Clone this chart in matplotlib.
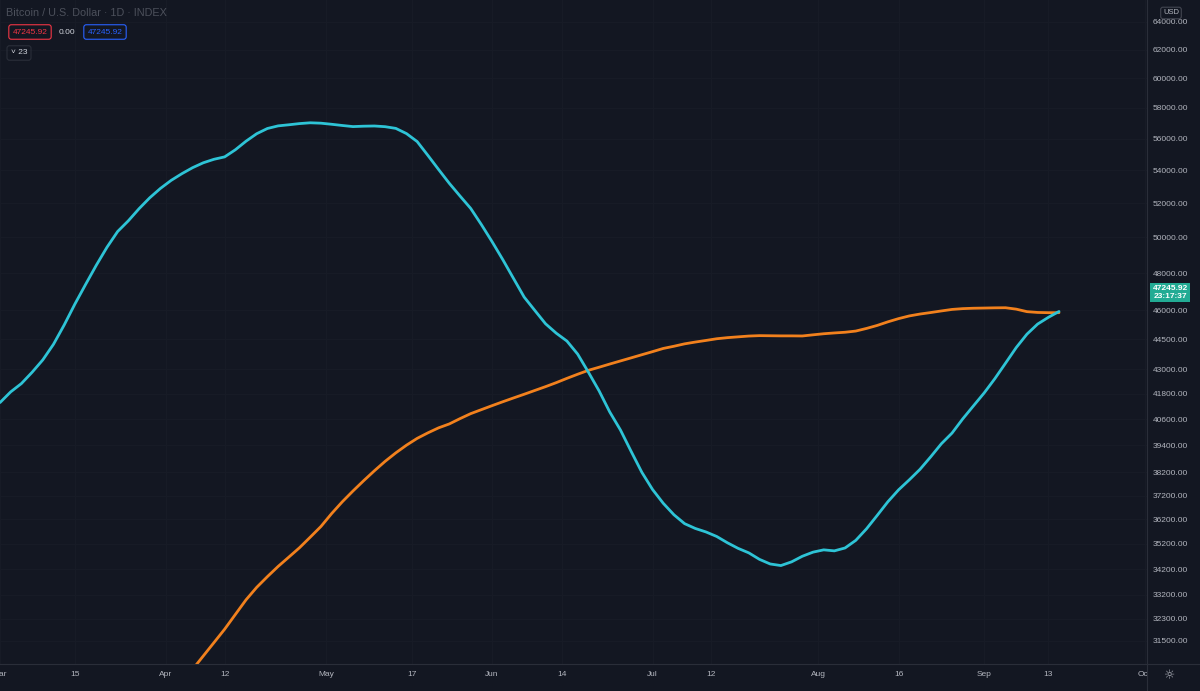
import numpy as np
import pandas as pd
import matplotlib
matplotlib.use('Agg')
import matplotlib.pyplot as plt
import matplotlib.dates as mdates
from matplotlib.ticker import FixedLocator, NullLocator, FuncFormatter
from matplotlib.transforms import blended_transform_factory

# values every second day (log price scale)
cyan_dates = pd.date_range('2021-03-01', '2021-09-15', freq='2D')
cyan_values = [41385, 41896, 42296, 42847, 43459, 44243, 45232, 46328, 47380, 48434,
               49443, 50346, 50967, 51678, 52328, 52893, 53381, 53791, 54162, 54467,
               54686, 54837, 55285, 55832, 56313, 56650, 56820, 56891, 56969, 57021,
               56995, 56924, 56845, 56773, 56799, 56812, 56767, 56657, 56320, 55806,
               54931, 54051, 53203, 52435, 51695, 50745, 49761, 48751, 47712, 46701,
               45989, 45294, 44809, 44405, 43749, 42856, 41948, 40942, 40107, 39135,
               38209, 37464, 36877, 36394, 36025, 35827, 35684, 35500, 35245, 35020,
               34840, 34581, 34399, 34337, 34483, 34704, 34868, 34960, 34920, 35036,
               35342, 35811, 36365, 36940, 37447, 37878, 38336, 38889, 39478, 39965,
               40620, 41229, 41843, 42534, 43295, 44076, 44758, 45279, 45628, 45937]

orange_dates = pd.date_range('2021-04-06', '2021-09-15', freq='2D')
orange_values = [30486, 30957, 31436, 31923, 32465, 33016, 33492, 33905, 34303, 34671,
                 35046, 35471, 35908, 36443, 36940, 37400, 37844, 38275, 38690, 39068,
                 39414, 39723, 39974, 40204, 40384, 40630, 40863, 41051, 41239, 41424,
                 41604, 41781, 41964, 42147, 42341, 42550, 42750, 42942, 43094, 43252,
                 43406, 43560, 43716, 43871, 44032, 44143, 44265, 44356, 44438, 44524,
                 44580, 44621, 44662, 44683, 44677, 44671, 44671, 44666, 44724, 44780,
                 44821, 44857, 44918, 45053, 45208, 45395, 45562, 45703, 45802, 45881,
                 45965, 46045, 46087, 46108, 46118, 46129, 46134, 46060, 45928, 45886,
                 45874, 45874]

price_ticks = [31500, 32300, 33200, 34200, 35200, 36200, 37200, 38200, 39400, 40600, 41800,
               43000, 44500, 46000, 48000, 50000, 52000, 54000, 56000, 58000, 60000, 62000, 64000]
time_ticks = ['2021-03-01', '2021-03-15', '2021-04-01', '2021-04-12', '2021-05-01', '2021-05-17',
              '2021-06-01', '2021-06-14', '2021-07-01', '2021-07-12', '2021-08-01', '2021-08-16',
              '2021-09-01', '2021-09-13', '2021-10-01']
time_labels = ['Mar', '15', 'Apr', '12', 'May', '17', 'Jun', '14', 'Jul', '12', 'Aug', '16',
               'Sep', '13', 'Oct']
last_price = 47245.92
countdown = '23:17:37'

W, H = 1200, 691
bg = '#131722'
grid = '#171b26'
border = '#2a2e39'
txt = '#b2b5be'

plt.rcParams['font.family'] = ['Liberation Sans', 'DejaVu Sans']

fig = plt.figure(figsize=(W / 100, H / 100), dpi=100, facecolor=bg)
left_w = 1147 / W
bot = (H - 664) / H

# main chart pane
ax = fig.add_axes([0, bot, left_w, 1 - bot], facecolor=bg)
ax.set_yscale('log')
ax.set_ylim(30675, 65633)
t0 = pd.Timestamp('2021-03-01')
ax.set_xlim(mdates.date2num(t0 + pd.Timedelta(days=0.18)),
            mdates.date2num(t0 + pd.Timedelta(days=214.45)))

ax.plot(orange_dates, orange_values, color='#f2811d', lw=2.0,
        solid_capstyle='round', solid_joinstyle='round')
ax.plot(cyan_dates, cyan_values, color='#2ec4d6', lw=2.0,
        solid_capstyle='round', solid_joinstyle='round')

ax.yaxis.set_major_locator(FixedLocator(price_ticks))
ax.yaxis.set_minor_locator(NullLocator())
ax.tick_params(axis='y', left=False, right=False, labelleft=False)
ax.set_xticks(mdates.date2num(pd.to_datetime(time_ticks)))
ax.set_xticklabels(time_labels)
ax.tick_params(axis='x', length=0, pad=5, colors=txt, labelsize=6)
ax.grid(True, color=grid, linewidth=0.8)
for s in ['top', 'left', 'right']:
    ax.spines[s].set_visible(False)
ax.spines['bottom'].set_color(border)

# price scale pane
ax2 = fig.add_axes([left_w, 0, 1 - left_w, 1], facecolor=bg, zorder=2)
ax2.set_yscale('log')
ax2.set_ylim(29742, 65633)
ax2.set_xticks([])
ax2.yaxis.tick_right()
ax2.yaxis.set_major_locator(FixedLocator(price_ticks))
ax2.yaxis.set_minor_locator(NullLocator())
ax2.yaxis.set_major_formatter(FuncFormatter(lambda v, p: f'{v:.2f}'))
ax2.tick_params(axis='y', length=0, pad=-47 * 0.72, labelsize=6, colors=txt)
for s in ['top', 'right', 'bottom']:
    ax2.spines[s].set_visible(False)
ax2.spines['left'].set_color(border)
ax2.axhline(30675, color=border, lw=0.8)

trans = blended_transform_factory(ax2.transAxes, ax2.transData)
ax2.annotate(f'{last_price:.2f}\n{countdown}', xy=(0.434, last_price), xycoords=trans,
             xytext=(0, -4), textcoords='offset points', ha='center', va='center',
             fontsize=6, color='white', fontweight='bold', linespacing=1.05,
             bbox=dict(boxstyle='square,pad=0.3', fc='#22ab94', ec='none'))

# header legend
fig.text(6 / W, 1 - 13 / H, 'Bitcoin / U.S. Dollar · 1D · INDEX', color='#4c505b',
         fontsize=7.8, ha='left', va='center')
fig.text(30 / W, 1 - 32 / H, f'{last_price:.2f}', color='#f23645', fontsize=6,
         ha='center', va='center',
         bbox=dict(boxstyle='round,pad=0.45,rounding_size=0.3', fc='none', ec='#f23645', lw=0.8))
fig.text(67 / W, 1 - 32 / H, '0.00', color='#d1d4dc', fontsize=6, ha='center', va='center')
fig.text(105 / W, 1 - 32 / H, f'{last_price:.2f}', color='#2962ff', fontsize=6,
         ha='center', va='center',
         bbox=dict(boxstyle='round,pad=0.45,rounding_size=0.3', fc='none', ec='#2962ff', lw=0.8))
fig.text(19 / W, 1 - 53 / H, '\u02c5 23', color='#d1d4dc', fontsize=6, ha='center', va='center',
         bbox=dict(boxstyle='round,pad=0.45,rounding_size=0.3', fc='none', ec=border, lw=0.8))

fig.text(1171 / W, 1 - 13 / H, 'USD', color=txt, fontsize=5.5, ha='center', va='center',
         bbox=dict(boxstyle='round,pad=0.3', fc=bg, ec='#434651', lw=0.8), zorder=5)
fig.text(1170 / W, 1 - 676 / H, '\u263c', color=txt, fontsize=9, ha='center', va='center',
         family='DejaVu Sans', zorder=5)

fig.savefig('out.png', dpi=100, facecolor=bg)
